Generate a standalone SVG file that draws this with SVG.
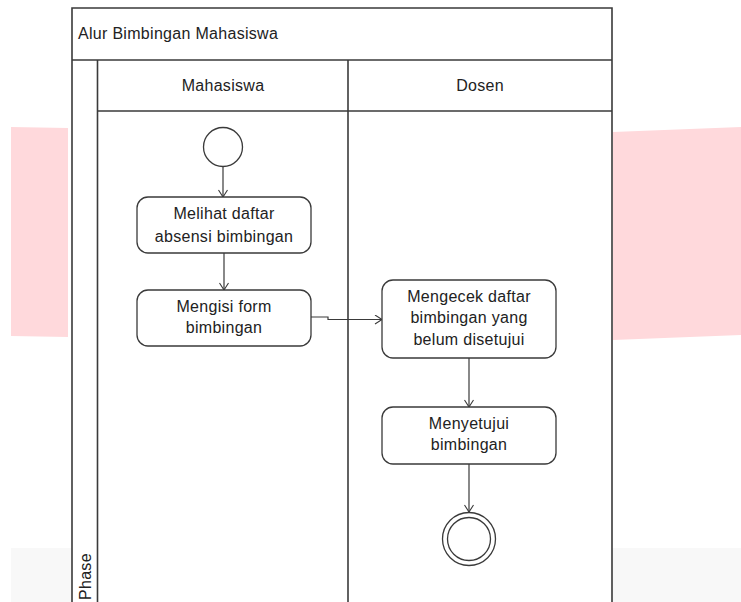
<svg xmlns="http://www.w3.org/2000/svg" width="741" height="602" viewBox="0 0 741 602">
<style>
.t{font-family:"Liberation Sans",Arial,sans-serif;font-size:16px;fill:#222;letter-spacing:0.3px}
.c{text-anchor:middle}
.frame{fill:none;stroke:#3a3a3a;stroke-width:1.6}
.box{fill:#fff;stroke:#3a3a3a;stroke-width:1.3}
.edge{fill:none;stroke:#3a3a3a;stroke-width:1.2}
</style>
<defs>
<marker id="arr" markerWidth="10" markerHeight="10" refX="8" refY="5" orient="auto" markerUnits="userSpaceOnUse">
<path d="M1,0.5 L8,5 L1,9.5" fill="none" stroke="#3a3a3a" stroke-width="1.1"/>
</marker>
</defs>
<rect width="741" height="602" fill="#fff"/>
<g id="background">
<polygon points="11,127 68,128 68,337 11,336" fill="#ffd9dc"/>
<polygon points="613,132 741,127 741,335 613,340" fill="#ffd9dc"/>
<rect x="11" y="548" width="730" height="54" fill="#f8f8f8"/>
</g>
<g id="pool">
<rect x="72" y="8" width="540" height="600" fill="#fff"/>
<path class="frame" d="M72,602 V8 H612 V602"/>
<line class="frame" x1="72" y1="60" x2="612" y2="60"/>
<line class="frame" x1="97.5" y1="60" x2="97.5" y2="602"/>
<line class="frame" x1="97.5" y1="111" x2="612" y2="111"/>
<line class="frame" x1="348" y1="60" x2="348" y2="602"/>
<text class="t" x="78" y="39">Alur Bimbingan Mahasiswa</text>
<text class="t c" x="223" y="91">Mahasiswa</text>
<text class="t c" x="480" y="91">Dosen</text>
<text class="t" x="0" y="0" font-size="15" transform="translate(91,600) rotate(-90)">Phase</text>
</g>
<g id="connectors">
<line class="edge" x1="223" y1="166.5" x2="223" y2="197" marker-end="url(#arr)"/>
<line class="edge" x1="224" y1="253" x2="224" y2="290" marker-end="url(#arr)"/>
<path class="edge" d="M311,317 H328 V319.5 H382" marker-end="url(#arr)"/>
<line class="edge" x1="469" y1="358" x2="469" y2="407" marker-end="url(#arr)"/>
<line class="edge" x1="469" y1="464" x2="469" y2="512" marker-end="url(#arr)"/>
</g>
<g id="start">
<circle cx="223" cy="147" r="19.5" fill="#fff" stroke="#3a3a3a" stroke-width="1.3"/>
</g>
<g id="melihat">
<rect class="box" x="137" y="197" width="174" height="56" rx="11"/>
<text class="t c" x="224" y="219">Melihat daftar</text>
<text class="t c" x="224" y="242">absensi bimbingan</text>
</g>
<g id="mengisi">
<rect class="box" x="137" y="290" width="174" height="56" rx="11"/>
<text class="t c" x="224" y="312">Mengisi form</text>
<text class="t c" x="224" y="333">bimbingan</text>
</g>
<g id="mengecek">
<rect class="box" x="382" y="280" width="174" height="78" rx="11"/>
<text class="t c" x="469" y="302">Mengecek daftar</text>
<text class="t c" x="469" y="323">bimbingan yang</text>
<text class="t c" x="469" y="345">belum disetujui</text>
</g>
<g id="menyetujui">
<rect class="box" x="382" y="407" width="174" height="57" rx="11"/>
<text class="t c" x="469" y="429">Menyetujui</text>
<text class="t c" x="469" y="450">bimbingan</text>
</g>
<g id="end">
<circle cx="469" cy="539" r="26.5" fill="#fff" stroke="#3a3a3a" stroke-width="1.3"/>
<circle cx="469" cy="539" r="21.5" fill="#fff" stroke="#3a3a3a" stroke-width="1.3"/>
</g>
</svg>
